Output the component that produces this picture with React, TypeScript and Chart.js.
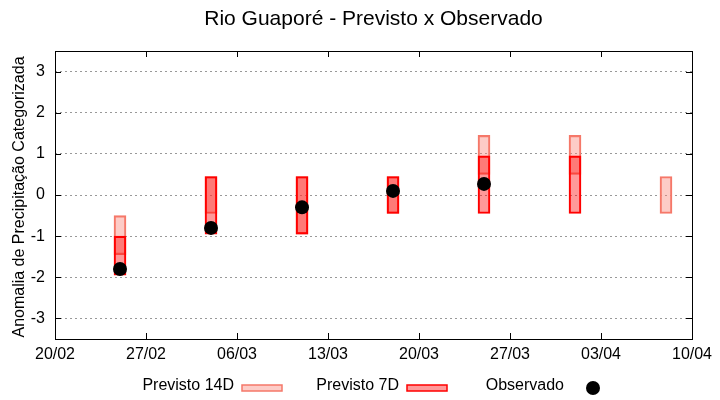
import React, { useEffect, useRef } from 'react';
import { Chart, registerables } from 'chart.js';

Chart.register(...registerables);

const FONT = '"Liberation Sans", Arial, sans-serif';

const chartTitle = 'Rio Guaporé - Previsto x Observado';
const yTitle = 'Anomalia de Precipitação Categorizada';
const tickLabels = ['20/02', '27/02', '06/03', '13/03', '20/03', '27/03', '03/04', '10/04'];
const yTickValues = [-3, -2, -1, 0, 1, 2, 3];
const forecastDates = ['25/02', '04/03', '11/03', '18/03', '25/03', '01/04', '08/04'];
const p14Low = [-1.45, -0.45, -0.95, -0.45, 0.5, 0.5, -0.45];
const p14High = [-0.5, 0.45, 0.45, 0.45, 1.45, 1.45, 0.45];
const p7Low: (number | null)[] = [-1.95, -0.95, -0.95, -0.45, -0.45, -0.45, null];
const p7High: (number | null)[] = [-1.0, 0.45, 0.45, 0.45, 0.95, 0.95, null];
const observed: (number | null)[] = [-1.8, -0.8, -0.3, 0.1, 0.27, null, null];
const legendLabels = ['Previsto 14D', 'Previsto 7D', 'Observado'];

function dayIndex(label: string): number {
  const [d, m] = label.split('/').map(Number);
  return (Date.UTC(2023, m - 1, d) - Date.UTC(2023, 1, 20)) / 86400000;
}

const C14_FILL = 'rgba(250,128,114,0.4)';
const C14_BORDER = 'rgb(245,120,105)';
const C7_FILL = 'rgba(255,0,0,0.4)';
const C7_BORDER = 'rgb(255,0,0)';

export default function App() {
  const ref = useRef<HTMLCanvasElement | null>(null);

  useEffect(() => {
    document.body.style.margin = '0';
    const canvas = ref.current;
    if (!canvas) return;
    const xs = forecastDates.map(dayIndex);
    const d14 = xs.map((x, i) => ({ x, y: [p14Low[i], p14High[i]] }));
    const d7 = xs
      .map((x, i) => (p7Low[i] == null ? null : { x, y: [p7Low[i], p7High[i]] }))
      .filter((v) => v != null);
    const dObs = xs
      .map((x, i) => (observed[i] == null ? null : { x, y: observed[i] }))
      .filter((v) => v != null);

    const framePlugin = {
      id: 'frame',
      afterDraw(chart: any) {
        const ctx = chart.ctx;
        const a = chart.chartArea;
        const xs = chart.scales.x;
        const ys = chart.scales.y;
        ctx.save();
        ctx.strokeStyle = '#000';
        ctx.lineWidth = 1;
        ctx.setLineDash([]);
        ctx.strokeRect(Math.round(a.left) + 0.5, Math.round(a.top) + 0.5, Math.round(a.right - a.left), Math.round(a.bottom - a.top));
        const tl = 6;
        ctx.beginPath();
        xs.ticks.forEach((t: any) => {
          const px = Math.round(xs.getPixelForValue(t.value)) + 0.5;
          ctx.moveTo(px, a.bottom);
          ctx.lineTo(px, a.bottom - tl);
          ctx.moveTo(px, a.top);
          ctx.lineTo(px, a.top + tl);
        });
        ys.ticks.forEach((t: any) => {
          const py = Math.round(ys.getPixelForValue(t.value)) + 0.5;
          ctx.moveTo(a.left, py);
          ctx.lineTo(a.left + tl, py);
          ctx.moveTo(a.right, py);
          ctx.lineTo(a.right - tl, py);
        });
        ctx.stroke();

        // title
        ctx.fillStyle = '#000';
        ctx.font = `21px ${FONT}`;
        ctx.textAlign = 'center';
        ctx.textBaseline = 'middle';
        ctx.fillText(chartTitle, (a.left + a.right) / 2, 19);

        // y title
        ctx.save();
        ctx.translate(20, 197);
        ctx.rotate(-Math.PI / 2);
        ctx.font = `16px ${FONT}`;
        ctx.fillText(yTitle, 0, 0);
        ctx.restore();

        // legend
        const ly = 386;
        ctx.font = `16px ${FONT}`;
        ctx.textAlign = 'right';
        ctx.fillText(legendLabels[0], 234, ly);
        ctx.fillText(legendLabels[1], 399, ly);
        ctx.fillText(legendLabels[2], 564, ly);
        ctx.lineWidth = 1.5;
        ctx.fillStyle = C14_FILL;
        ctx.strokeStyle = C14_BORDER;
        ctx.fillRect(242, 385, 40, 6);
        ctx.strokeRect(242, 385, 40, 6);
        ctx.fillStyle = C7_FILL;
        ctx.strokeStyle = C7_BORDER;
        ctx.fillRect(407, 385, 40, 6);
        ctx.strokeRect(407, 385, 40, 6);
        ctx.fillStyle = '#000';
        ctx.beginPath();
        ctx.arc(593, 388, 7, 0, Math.PI * 2);
        ctx.fill();
        ctx.restore();
      },
    };

    const chart = new Chart(canvas, {
      type: 'bar',
      data: {
        datasets: [
          {
            type: 'line',
            label: legendLabels[2],
            data: dObs as any,
            showLine: false,
            pointRadius: 7,
            pointStyle: 'circle',
            pointBackgroundColor: '#000',
            pointBorderColor: '#000',
            pointBorderWidth: 0,
            order: 0,
          } as any,
          {
            label: legendLabels[1],
            data: d7 as any,
            backgroundColor: C7_FILL,
            borderColor: C7_BORDER,
            borderWidth: 1.5,
            borderSkipped: false,
            barThickness: 12,
            grouped: false,
            order: 1,
          } as any,
          {
            label: legendLabels[0],
            data: d14 as any,
            backgroundColor: C14_FILL,
            borderColor: C14_BORDER,
            borderWidth: 1.5,
            borderSkipped: false,
            barThickness: 12,
            grouped: false,
            order: 2,
          } as any,
        ],
      },
      options: {
        animation: false,
        responsive: false,
        devicePixelRatio: 1,
        layout: { padding: { top: 51, right: 28, left: 0, bottom: 0 } },
        plugins: {
          legend: { display: false },
          title: { display: false },
          tooltip: { enabled: false },
        },
        scales: {
          x: {
            type: 'linear',
            min: 0,
            max: 49,
            offset: false,
            afterFit: (s: any) => {
              s.height = 61;
            },
            ticks: {
              stepSize: 7,
              autoSkip: false,
              maxRotation: 0,
              padding: 6,
              color: '#000',
              font: { family: FONT, size: 16 },
              callback: (_v: any, i: number) => tickLabels[i],
            },
            grid: { display: false, drawTicks: false },
            border: { display: false },
          },
          y: {
            type: 'linear',
            min: -3.5,
            max: 3.5,
            afterFit: (s: any) => {
              s.width = 55;
            },
            afterBuildTicks: (s: any) => {
              s.ticks = yTickValues.map((v) => ({ value: v }));
            },
            ticks: {
              autoSkip: false,
              padding: 10,
              color: '#000',
              font: { family: FONT, size: 16 },
            },
            grid: {
              color: '#999',
              lineWidth: 1,
              drawTicks: false,
            },
            border: { display: false, dash: [2, 3] },
          },
        },
      } as any,
      plugins: [framePlugin],
    });
    return () => chart.destroy();
  }, []);

  return (
    <div style={{ width: 720, height: 400 }}>
      <canvas ref={ref} width={720} height={400} style={{ display: 'block' }} />
    </div>
  );
}
